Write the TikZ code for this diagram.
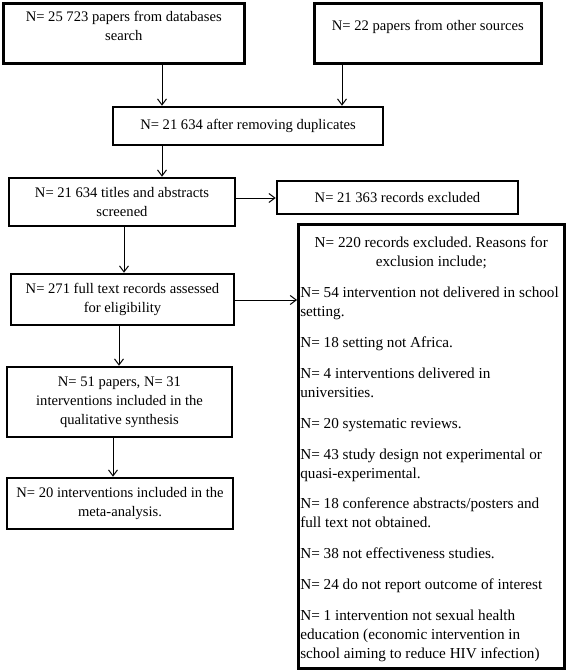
\documentclass[tikz,border=0pt]{standalone}
\usepackage{fontspec}
\setmainfont{Liberation Serif}
\usetikzlibrary{arrows.meta}
\frenchspacing
\begin{document}
\begin{tikzpicture}[x=1pt,y=-1pt,
  every node/.style={font=\fontsize{14.6}{19}\selectfont},
  box/.style={draw, line width=2.6pt, inner sep=0pt, align=center},
  arr/.style={-{Straight Barb[length=6pt,width=9pt,line width=1pt]}, line width=1pt}]
\useasboundingbox (0,0) rectangle (567,671);

% top row
\node[box, anchor=north west] (db) at (2,2)
  {\begin{minipage}[t][60pt][t]{241pt}\centering\vspace*{7.5pt}N= 25 723 papers from databases\\search\end{minipage}};
\node[box, anchor=north west] (other) at (313,2)
  {\begin{minipage}[t][60pt][t]{227pt}\centering\vspace*{16.5pt}N= 22 papers from other sources\end{minipage}};

\node[box, minimum width=270, minimum height=38] (dup) at (248,126) {N= 21 634 after removing duplicates};
\node[box, minimum width=226, minimum height=48] (scr) at (122,202) {N= 21 634 titles and abstracts\\screened};
\node[box, minimum width=241, minimum height=33] (ex1) at (397.5,197.5) {N= 21 363 records excluded};
\node[box, minimum width=223, minimum height=51] (full) at (122.5,299.5) {N= 271 full text records assessed\\for eligibility};
\node[box, minimum width=225, minimum height=70] (qual) at (119.5,402) {N= 51 papers, N= 31\\interventions included in the\\qualitative synthesis};
\node[box, minimum width=226, minimum height=51] (meta) at (120,503.5) {N= 20 interventions included in the\\meta-analysis.};

\node[box, inner xsep=2pt, anchor=north west, font=\fontsize{15.2}{19}\selectfont] (ex2) at (297,223)
  {\begin{minipage}[t][444pt][t]{262pt}\setlength{\parskip}{0pt}\vspace*{12.5pt}%
  {\centering N= 220 records excluded. Reasons for\\exclusion include;\par}
  \setlength{\parskip}{11.9pt}\raggedright
  N= 54 intervention not delivered in school\\setting.\par
  N= 18 setting not Africa.\par
  N= 4 interventions delivered in\\universities.\par
  N= 20 systematic reviews.\par
  N= 43 study design not experimental or\\quasi-experimental.\par
  N= 18 conference abstracts/posters and\\full text not obtained.\par
  N= 38 not effectiveness studies.\par
  N= 24 do not report outcome of interest\par
  N= 1 intervention not sexual health\\education (economic intervention in\\school aiming to reduce HIV infection)\par
  \end{minipage}};

% connectors
\coordinate (ax1) at (162,0);
\coordinate (ax2) at (342,0);
\coordinate (ax3) at (124,0);
\coordinate (ax4) at (119,0);
\coordinate (ax5) at (113,0);
\coordinate (ay1) at (0,198);
\coordinate (ay2) at (0,300);
\draw[arr] (db.south -| ax1) -- (dup.north -| ax1);
\draw[arr] (other.south -| ax2) -- (dup.north -| ax2);
\draw[arr] (dup.south -| ax1) -- (scr.north -| ax1);
\draw[arr] (scr.east |- ay1) -- (ex1.west |- ay1);
\draw[arr] (scr.south -| ax3) -- (full.north -| ax3);
\draw[arr] (full.east |- ay2) -- (ex2.west |- ay2);
\draw[arr] (full.south -| ax4) -- (qual.north -| ax4);
\draw[arr] (qual.south -| ax5) -- (meta.north -| ax5);
\end{tikzpicture}
\end{document}
